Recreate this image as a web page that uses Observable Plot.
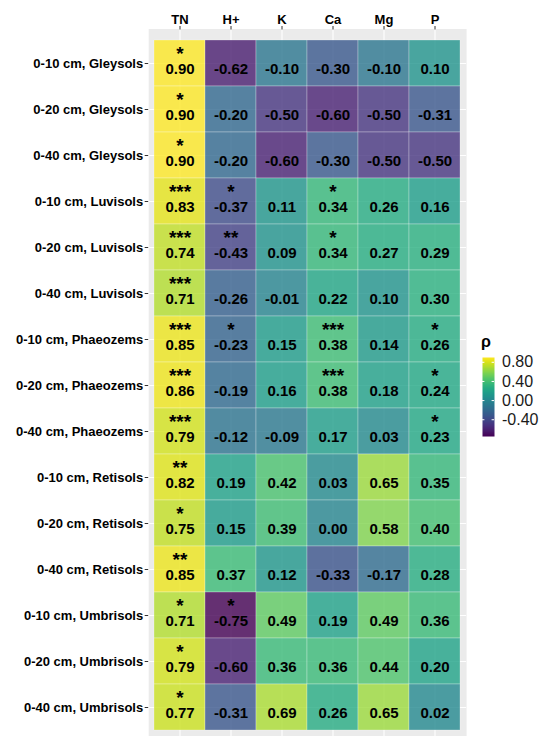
<!DOCTYPE html>
<html>
<head>
<meta charset="utf-8">
<script src="https://cdn.jsdelivr.net/npm/d3@7"></script>
<script src="https://cdn.jsdelivr.net/npm/@observablehq/plot@0.6"></script>
<style>
  html, body { margin: 0; padding: 0; background: #fff; overflow: hidden; }
  #wrap { position: relative; width: 540px; height: 736px; overflow: hidden; font-family: "Liberation Sans", Arial, sans-serif; }
  #main { position: absolute; left: 0; top: 0; }
  #legend { position: absolute; left: 476px; top: 330px; }
  #ltitle { position: absolute; left: 481px; top: 333px; font-size: 16px; font-weight: bold; color: #000; }
</style>
</head>
<body>
<div id="wrap">
  <div id="main"></div>
  <div id="ltitle">ρ</div>
  <div id="legend"></div>
</div>
<script>
const columns = ["TN", "H+", "K", "Ca", "Mg", "P"];
const rows = [
  "0-10 cm, Gleysols", "0-20 cm, Gleysols", "0-40 cm, Gleysols",
  "0-10 cm, Luvisols", "0-20 cm, Luvisols", "0-40 cm, Luvisols",
  "0-10 cm, Phaeozems", "0-20 cm, Phaeozems", "0-40 cm, Phaeozems",
  "0-10 cm, Retisols", "0-20 cm, Retisols", "0-40 cm, Retisols",
  "0-10 cm, Umbrisols", "0-20 cm, Umbrisols", "0-40 cm, Umbrisols"
];
const rho = [
  [0.90, -0.62, -0.10, -0.30, -0.10,  0.10],
  [0.90, -0.20, -0.50, -0.60, -0.50, -0.31],
  [0.90, -0.20, -0.60, -0.30, -0.50, -0.50],
  [0.83, -0.37,  0.11,  0.34,  0.26,  0.16],
  [0.74, -0.43,  0.09,  0.34,  0.27,  0.29],
  [0.71, -0.26, -0.01,  0.22,  0.10,  0.30],
  [0.85, -0.23,  0.15,  0.38,  0.14,  0.26],
  [0.86, -0.19,  0.16,  0.38,  0.18,  0.24],
  [0.79, -0.12, -0.09,  0.17,  0.03,  0.23],
  [0.82,  0.19,  0.42,  0.03,  0.65,  0.35],
  [0.75,  0.15,  0.39,  0.00,  0.58,  0.40],
  [0.85,  0.37,  0.12, -0.33, -0.17,  0.28],
  [0.71, -0.75,  0.49,  0.19,  0.49,  0.36],
  [0.79, -0.60,  0.36,  0.36,  0.44,  0.20],
  [0.77, -0.31,  0.69,  0.26,  0.65,  0.02]
];
const stars = [
  ["*", "", "", "", "", ""],
  ["*", "", "", "", "", ""],
  ["*", "", "", "", "", ""],
  ["***", "*", "", "*", "", ""],
  ["***", "**", "", "*", "", ""],
  ["***", "", "", "", "", ""],
  ["***", "*", "", "***", "", "*"],
  ["***", "", "", "***", "", "*"],
  ["***", "", "", "", "", "*"],
  ["**", "", "", "", "", ""],
  ["*", "", "", "", "", ""],
  ["**", "", "", "", "", ""],
  ["*", "*", "", "", "", ""],
  ["*", "", "", "", "", ""],
  ["*", "", "", "", "", ""]
];
const legendTicks = [0.8, 0.4, 0.0, -0.4];
const colorDomain = [-0.75, 0.90];

const cells = [];
rows.forEach((r, i) => columns.forEach((c, j) => cells.push({row: r, col: c, v: rho[i][j], s: stars[i][j]})));

const fontFamily = '"Liberation Sans", Arial, sans-serif';
const colorScale = {type: "linear", scheme: "viridis", domain: colorDomain};

const main = Plot.plot({
  width: 470,
  height: 745,
  marginLeft: 148.2,
  marginRight: 3.9,
  marginTop: 28.5,
  marginBottom: 2.8,
  style: {fontFamily, fontSize: "13px", color: "#000", background: "transparent"},
  x: {type: "band", domain: columns, range: [153.3, 461], padding: 0, label: null},
  y: {type: "band", domain: rows, range: [33.2, 737.5], padding: 0, label: null},
  color: colorScale,
  marks: [
    Plot.frame({fill: "#EBEBEB", stroke: "none"}),
    Plot.gridX({stroke: "white", strokeOpacity: 1, strokeWidth: 1.1}),
    Plot.gridY({stroke: "white", strokeOpacity: 1, strokeWidth: 1.1}),
    Plot.cell(cells, {x: "col", y: "row", fill: "v", fillOpacity: 0.8, stroke: "white", strokeOpacity: 0.45, strokeWidth: 0.6, inset: 0}),
    Plot.text(cells, {x: "col", y: "row", text: d => d.v.toFixed(2), fontSize: 15, fontWeight: "bold", fill: "black", dy: 6}),
    Plot.text(cells.filter(d => d.s), {x: "col", y: "row", text: "s", fontSize: 19, fontWeight: "bold", fill: "black", dy: -10}),
    Plot.axisX({anchor: "top", tickSize: 3.5, tickPadding: 2, fontSize: 13, fontWeight: "bold", label: null, stroke: "#333"}),
    Plot.axisY({anchor: "left", tickSize: 3.5, tickPadding: 2, fontSize: 13, fontWeight: "bold", label: null, stroke: "#333"})
  ]
});
document.getElementById("main").appendChild(main);

const legend = Plot.plot({
  width: 64,
  height: 116,
  marginLeft: 6,
  marginRight: 46,
  marginTop: 27,
  marginBottom: 10,
  style: {fontFamily, fontSize: "16px", color: "#1a1a1a", background: "transparent"},
  x: {domain: [0, 1], axis: null},
  y: {domain: colorDomain, axis: null},
  color: colorScale,
  marks: [
    Plot.raster({x1: 0, x2: 1, y1: colorDomain[0], y2: colorDomain[1], width: 2, height: 120, fill: (x, y) => y, imageRendering: "auto"}),
    Plot.ruleY(legendTicks, {x1: 0, x2: 0.2, stroke: "white", strokeWidth: 1}),
    Plot.ruleY(legendTicks, {x1: 0.8, x2: 1, stroke: "white", strokeWidth: 1}),
    Plot.axisY(legendTicks, {anchor: "right", tickSize: 0, tickPadding: 7.5, tickFormat: d => d.toFixed(2), fontSize: 16, label: null})
  ]
});
document.getElementById("legend").appendChild(legend);
</script>
</body>
</html>
